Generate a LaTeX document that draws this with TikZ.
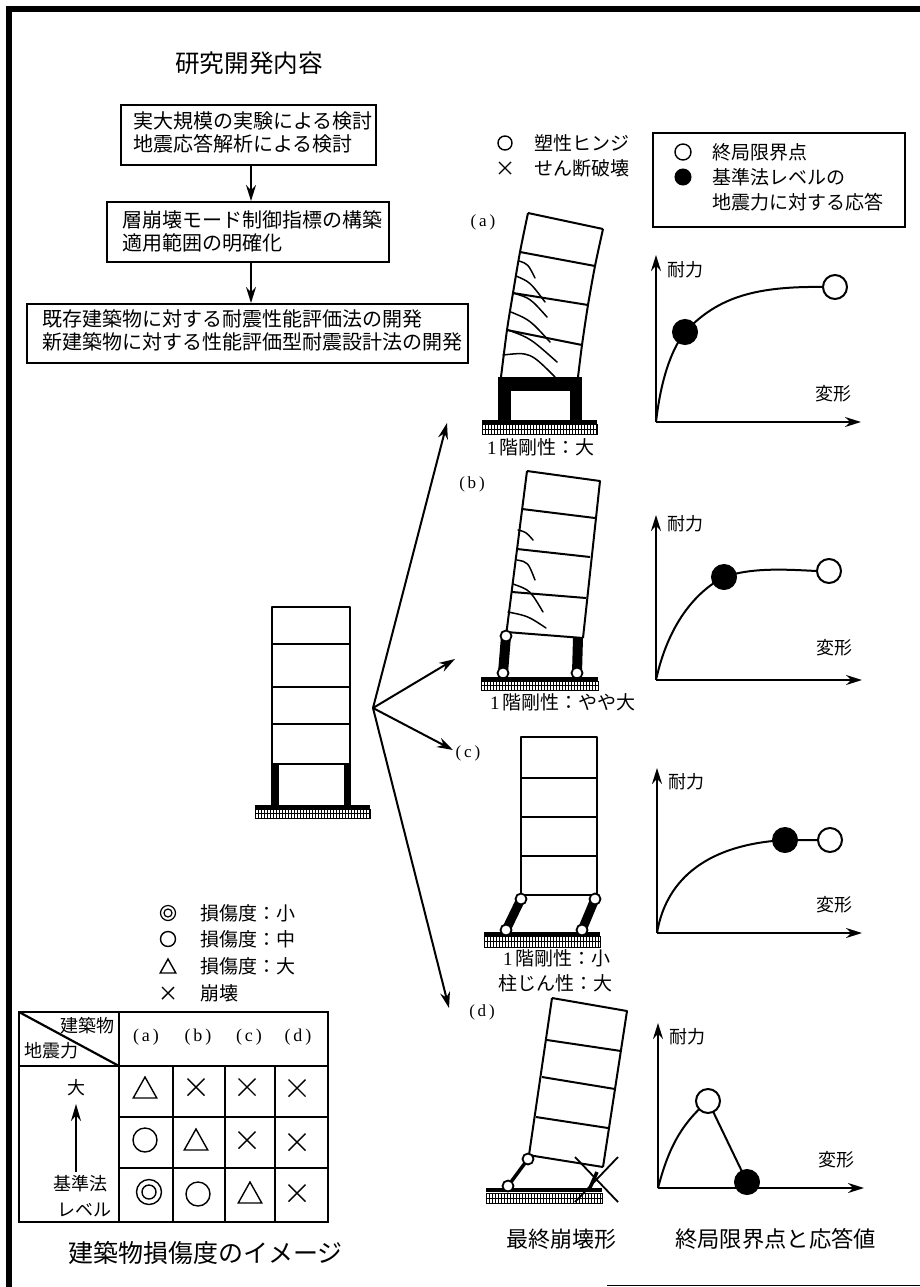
\documentclass[tikz,border=0pt]{standalone}
\usepackage{fontspec}
\setmainfont{Noto Sans CJK JP}
\newfontfamily\lat{Liberation Serif}
\usetikzlibrary{arrows.meta}
\tikzset{
  x=1pt,y=-1pt,
  tx/.style={inner sep=0pt,anchor=west,font=\fontsize{#1}{#1}\selectfont},
  tx/.default=19,
  flowtx/.style={inner sep=0pt,anchor=west,align=left,font=\fontsize{20}{23}\selectfont},
  lbl/.style={inner sep=0pt,font=\fontsize{#1}{#1}\selectfont\lat},
  flowbox/.style={draw,line width=2pt,fill=white,inner sep=0pt},
  arr/.style={line width=2pt,-{Stealth[length=16pt,width=10pt]}},
  axis/.style={line width=2pt,-{Stealth[length=16pt,width=10pt]}},
  wall/.style={line width=2pt,line join=round},
  crack/.style={line width=1.5pt,line cap=round},
  col/.style={line width=#1,line cap=butt},
  opn/.style={circle,draw,line width=2pt,fill=white,inner sep=0pt,minimum size=#1},
  sld/.style={circle,draw,line width=1pt,fill=black,inner sep=0pt,minimum size=#1},
  hinge/.style={circle,draw,line width=1.8pt,fill=white,inner sep=0pt,minimum size=11pt},
  curve/.style={line width=2pt},
  sym/.style={line width=1.4pt},
  cell/.style={line width=2pt},
}
\newcommand{\hatchbar}[5]{% x1 x2 ybar yh1 yh2
  \fill (#1,#3-2) rectangle (#2,#3+2);
  \draw[line width=.7pt] (#1,#4) rectangle (#2,#5);
  \draw[line width=.7pt] (#1,#4/2+#5/2) -- (#2,#4/2+#5/2);
  \pgfmathtruncatemacro{\hxb}{#1+3}
  \foreach \hx in {#1,\hxb,...,#2} {\draw[line width=.7pt] (\hx,#4) -- (\hx,#5);}
}
\newcommand{\crossm}[3]{\draw[sym] (#1-#3,#2-#3) -- (#1+#3,#2+#3) (#1-#3,#2+#3) -- (#1+#3,#2-#3);}
\newcommand{\trim}[3]{\draw[sym,line join=miter] (#1,#2-#3) -- (#1+#3*1.12,#2+#3) -- (#1-#3*1.12,#2+#3) -- cycle;}
\begin{document}
\begin{tikzpicture}
\useasboundingbox (0,0) rectangle (920,1287);
\fill[white] (0,0) rectangle (920,1287);
% frame
\fill (6,6) rectangle (920,12.5);
\fill (6,6) rectangle (12,1287);
\draw[line width=1pt] (607,1285.5) -- (920,1285.5);

% research flow
\node[tx=24.6] (title) at (175,63) {研究開発内容};
\node[flowbox,minimum width=255pt,minimum height=60pt] (f1) at (248.5,135) {};
\node[flowbox,minimum width=282pt,minimum height=60pt] (f2) at (248,232) {};
\node[flowbox,minimum width=441pt,minimum height=59pt] (f3) at (247.5,333.5) {};
\node[flowtx] (f1t) at (133,132) {実大規模の実験による検討\\地震応答解析による検討};
\node[flowtx] (f2t) at (122,231.5) {層崩壊モード制御指標の構築\\適用範囲の明確化};
\node[flowtx] (f3t) at (42,330) {既存建築物に対する耐震性能評価法の開発\\新建築物に対する性能評価型耐震設計法の開発};
\coordinate (f1b) at (251,165);
\coordinate (f2b) at (251,262);
\draw[arr] (f1b) -- (f1b |- f2.north);
\draw[arr] (f2b) -- (f2b |- f3.north);

% legends top
\node[opn=14pt,line width=1.4pt] (lh) at (505,143) {};
\node[tx] (lht) at (534,143) {塑性ヒンジ};
\crossm{505}{168}{6}
\node[tx] (lst) at (534,168) {せん断破壊};
\node[draw,line width=2pt,inner sep=0pt,minimum width=252pt,minimum height=94pt] (lbox) at (779,180) {};
\node[opn=16pt,line width=1.4pt] (lo) at (683,152) {};
\node[sld=16pt] (lf) at (683,177) {};
\node[tx] (lot) at (712,152) {終局限界点};
\node[tx] (lft) at (712,177) {基準法レベルの};
\node[tx] (lft2) at (712,202) {地震力に対する応答};

% central building
\draw[wall] (272,607) rectangle (350,807);
\draw[wall] (272,644) -- (350,644) (272,687) -- (350,687) (272,724) -- (350,724) (272,764) -- (350,764);
\fill (272,764) rectangle (279,807);
\fill (344,764) rectangle (351,807);
\hatchbar{255}{370}{807}{809}{818}

% fan arrows
\coordinate (fan) at (373,708);
\coordinate (ea) at (447,423);
\coordinate (eb) at (455,659);
\coordinate (ec) at (453,750);
\coordinate (ed) at (449,1008);
\draw[arr] (fan) -- (ea);
\draw[arr] (fan) -- (eb);
\draw[arr] (fan) -- (ec);
\draw[arr] (fan) -- (ed);

% case labels
\node[lbl=17] (la) at (483,222) {(\,a\,)};
\node[lbl=17] (lb) at (472,484) {(\,b\,)};
\node[lbl=17] (lc) at (468,753) {(\,c\,)};
\node[lbl=17] (ld) at (482,1012) {(\,d\,)};

% building (a)
\draw[wall] plot[smooth] coordinates {(501,377) (507,330) (513,293) (520,252) (528,213)};
\draw[wall] plot[smooth] coordinates {(578,377) (582,345) (588,305) (595,266) (603,229)};
\draw[wall] (528,213) -- (603,229) (520,252) -- (595,266) (513,293) -- (588,305) (507,330) -- (582,345);
\fill (498,377) rectangle (582,391);
\fill (498,377) rectangle (511,420);
\fill (570,377) rectangle (582,420);
\draw[crack] (519,261) .. controls (528,264) .. (535,278);
\draw[crack] (516,276) .. controls (530,282) .. (545,302);
\draw[crack] (513,293) .. controls (530,298) .. (547,317);
\draw[crack] (511,312) .. controls (530,320) .. (550,342);
\draw[crack] (508,330) .. controls (530,338) .. (557,362);
\draw[crack] (503,355) .. controls (530,352) .. (555,377);
\hatchbar{482}{597}{422}{424}{434}
\node[tx] (ca) at (487,447) {{\lat 1}\,階剛性：大};

% graph (a)
\coordinate (oa) at (656,422);
\draw[axis] (oa) -- (656,255) coordinate (ya);
\draw[axis] (oa) -- (861,422) coordinate (xa);
\node[opn=24pt] (ua) at (835,287) {};
\draw[curve] (oa) .. controls (662,370) and (675,345) .. (685,332) .. controls (715,300) and (750,286) .. (ua.west);
\node[sld=25pt] (ra) at (685,332) {};
\node[tx=18] (ta) at (667,270) {耐力};
\node[tx=18] (ha) at (815,394) {変形};

% building (b)
\draw[wall] (527,471) -- (600,481) -- (583,638) (527,471) -- (506,636);
\draw[wall] (522,509) -- (595,518) (517,549) -- (590,557) (512,592) -- (586,598) (506,632) -- (583,638);
\draw[col=10pt] (506,636) -- (503,673);
\draw[col=10pt] (578,638) -- (577,673);
\node[hinge] (hb1) at (506,636) {};
\node[hinge] (hb2) at (503,673) {};
\node[hinge] (hb3) at (577,673) {};
\draw[crack] (518,530) .. controls (526,532) .. (533,540);
\draw[crack] (517,560) .. controls (528,562) .. (535,580);
\draw[crack] (513,584) .. controls (530,590) .. (543,612);
\draw[crack] (508,612) .. controls (528,616) .. (546,628);
\hatchbar{481}{598}{678.5}{681}{690}
\node[tx] (cb) at (490,702) {{\lat 1}\,階剛性：やや大};

% graph (b)
\coordinate (ob) at (656,680);
\draw[axis] (ob) -- (656,515) coordinate (yb);
\draw[axis] (ob) -- (862,680) coordinate (xb);
\node[opn=24pt] (ub) at (829,571) {};
\draw[curve] (ob) .. controls (668,625) and (695,592) .. (724,577) .. controls (750,568) and (780,569) .. (ub.west);
\node[sld=25pt] (rb) at (724,577) {};
\node[tx=18] (tb) at (667,524) {耐力};
\node[tx=18] (hb) at (816,648) {変形};

% building (c)
\draw[wall] (521,737) rectangle (597,895);
\draw[wall] (521,778) -- (597,778) (521,817) -- (597,817) (521,856) -- (597,856);
\draw[col=9pt] (521,899) -- (506,930);
\draw[col=9pt] (595,899) -- (582,930);
\hatchbar{484}{600}{933.5}{936}{947}
\node[hinge] (hc1) at (521,899) {};
\node[hinge] (hc2) at (595,899) {};
\node[hinge] (hc3) at (506,930) {};
\node[hinge] (hc4) at (582,930) {};
\node[tx] (cc) at (503,958) {{\lat 1}\,階剛性：小};
\node[tx] (cc2) at (498,983) {柱じん性：大};

% graph (c)
\coordinate (oc) at (657,933);
\draw[axis] (oc) -- (657,768) coordinate (yc);
\draw[axis] (oc) -- (862,933) coordinate (xc);
\draw[curve] (oc) .. controls (665,885) and (700,845) .. (785,840) -- (830,840);
\node[opn=24pt] (uc) at (830,840) {};
\node[sld=25pt] (rc) at (785,840) {};
\node[tx=18] (tc) at (668,782) {耐力};
\node[tx=18] (hc) at (816,905) {変形};

% building (d)
\draw[wall] (552,998) -- (627,1011) -- (603,1167) (552,998) -- (529,1155);
\draw[wall] (547,1040) -- (621,1051) (542,1077) -- (615,1089) (536,1117) -- (608,1128) (528,1155) -- (603,1167);
\draw[col=3.5pt] (528,1159) -- (508,1186);
\draw[col=3.5pt] (589,1190) -- (597,1172);
\hatchbar{486}{602}{1190}{1193}{1203}
\node[hinge] (hd1) at (528,1159) {};
\node[hinge] (hd2) at (508,1186) {};
\draw[line width=1.8pt] (575,1157) -- (618,1202) (618,1157) -- (575,1202);

% graph (d)
\coordinate (od) at (658,1188);
\draw[axis] (od) -- (658,1023) coordinate (yd);
\draw[axis] (od) -- (864,1188) coordinate (xd);
\draw[curve] (od) .. controls (668,1150) and (680,1125) .. (708,1101) -- (747,1182);
\node[opn=24pt] (ud) at (708,1101) {};
\node[sld=25pt] (rd) at (747,1182) {};
\node[tx=18] (td) at (669,1037) {耐力};
\node[tx=18] (hd) at (818,1160) {変形};

% captions
\node[tx=22] (cap1) at (506,1239) {最終崩壊形};
\node[tx=22.3] (cap2) at (675,1239) {終局限界点と応答値};

% damage legend
\node[opn=15pt,line width=1.2pt] (d1o) at (168,913) {};
\node[opn=8pt,line width=1.2pt] (d1i) at (168,913) {};
\node[opn=15pt,line width=1.4pt] (d2) at (168,939) {};
\trim{168}{966}{7}
\crossm{168}{993}{6}
\node[tx] (d1t) at (200,913) {損傷度：小};
\node[tx] (d2t) at (200,939) {損傷度：中};
\node[tx] (d3t) at (200,966) {損傷度：大};
\node[tx] (d4t) at (200,993) {崩壊};

% table
\draw[cell] (19,1012) rectangle (328,1222);
\draw[cell] (119,1012) -- (119,1222);
\draw[cell] (19,1066) -- (328,1066);
\draw[cell] (119,1117) -- (328,1117) (119,1168) -- (328,1168);
\draw[cell] (173,1066) -- (173,1222) (225,1066) -- (225,1222) (275,1066) -- (275,1222);
\draw[cell,line width=2.2pt] (19,1012) -- (119,1066);
\node[tx=18] (tb1) at (60,1026) {建築物};
\node[tx=18] (tb2) at (24,1051) {地震力};
\node[lbl=18] (ha1) at (146,1037) {(\,a\,)};
\node[lbl=18] (ha2) at (198,1037) {(\,b\,)};
\node[lbl=18] (ha3) at (249,1037) {(\,c\,)};
\node[lbl=18] (ha4) at (298,1037) {(\,d\,)};
\node[tx=18,anchor=center] (big) at (76,1088) {大};
\node[tx=18] (base) at (53,1184) {基準法};
\node[tx=18] (lvl) at (57,1210) {レベル};
\coordinate (arrs) at (76,1172);
\coordinate (arre) at (76,1104);
\draw[line width=1.5pt,-{Stealth[length=17pt,width=10pt]}] (arrs) -- (arre);
% row 1
\trim{145}{1087.5}{10.5}
\crossm{196}{1087}{8.5}
\crossm{247}{1087}{8.5}
\crossm{297}{1088}{8.5}
% row 2
\node[opn=24pt,line width=1.4pt] (r2a) at (145,1140) {};
\trim{196}{1139.5}{10.5}
\crossm{247}{1140}{8.5}
\crossm{297}{1142}{8.5}
% row 3
\node[opn=25pt,line width=1.4pt] (r3a) at (149,1192) {};
\node[opn=14pt,line width=1.4pt] (r3b) at (149,1192) {};
\node[opn=24pt,line width=1.4pt] (r3c) at (198,1194) {};
\trim{250}{1192.5}{10.5}
\crossm{297}{1193}{8.5}
\node[tx=25] (cap3) at (68,1253) {建築物損傷度のイメージ};
\end{tikzpicture}
\end{document}
